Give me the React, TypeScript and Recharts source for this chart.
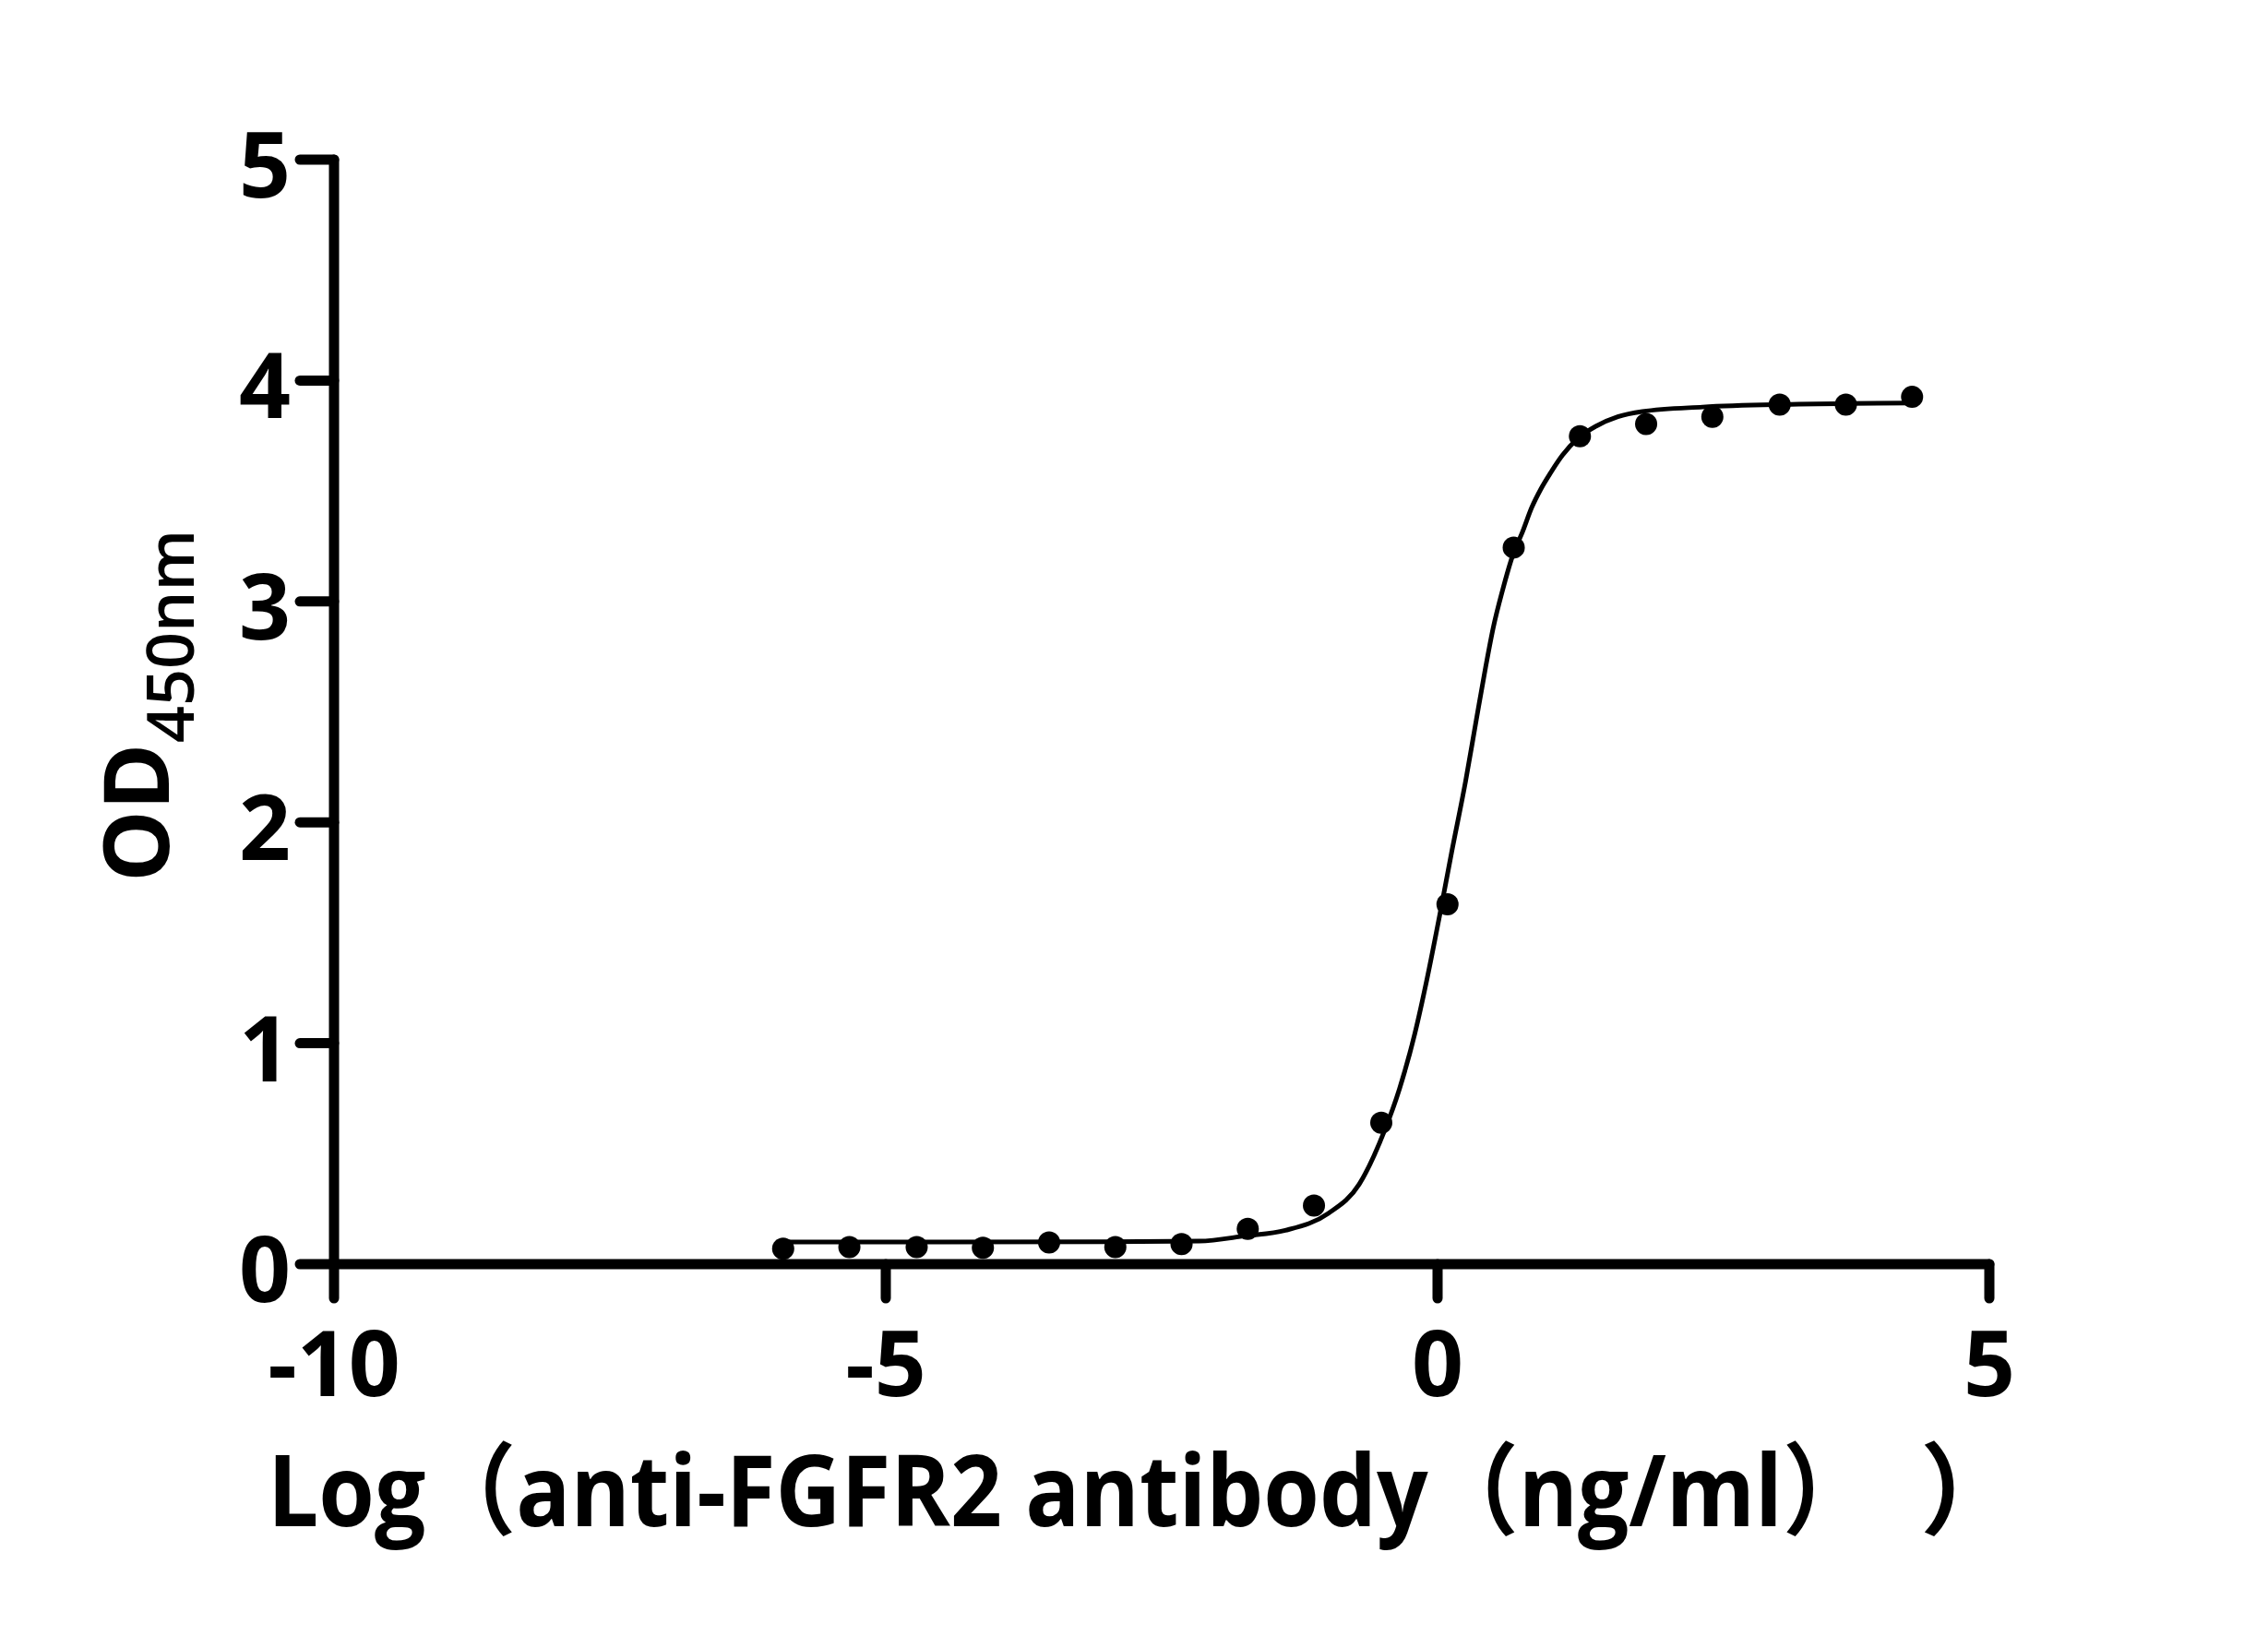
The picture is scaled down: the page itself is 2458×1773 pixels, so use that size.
import { useLayoutEffect, useRef, useState } from "react";
import { ComposedChart, Line, Scatter, XAxis, YAxis, Label } from "recharts";

// measured OD450 values, log10 of the antibody concentration (ng/ml)
const pointLogConc = [
  -5.93, -5.33, -4.72, -4.12, -3.52, -2.92, -2.32, -1.72, -1.12, -0.51, 0.09, 0.69, 1.29, 1.89, 2.49,
  3.1, 3.7, 4.3,
];
const pointOD = [
  0.07, 0.077, 0.077, 0.074, 0.098, 0.077, 0.091, 0.16, 0.265, 0.64, 1.629, 3.244, 3.748, 3.803, 3.836,
  3.891, 3.891, 3.926,
];

// fitted curve
const fitLogConc = [
  -5.93, -4.5, -3.0, -2.16, -1.74, -1.38, -0.99, -0.71, -0.485, -0.345, -0.206, -0.094, 0.017, 0.128,
  0.254, 0.351, 0.435, 0.505, 0.588, 0.686, 0.769, 0.853, 0.936, 1.02, 1.132, 1.271, 1.438, 1.633, 1.856,
  2.4, 3.2, 4.3,
];
const fitOD = [
  0.1, 0.1, 0.101, 0.104, 0.128, 0.153, 0.23, 0.362, 0.599, 0.794, 1.044, 1.295, 1.574, 1.866, 2.186,
  2.464, 2.701, 2.882, 3.049, 3.216, 3.314, 3.425, 3.509, 3.579, 3.662, 3.738, 3.794, 3.836, 3.86, 3.88,
  3.892, 3.898,
];

const xTicks = [-10, -5, 0, 5];
const yTicks = [0, 1, 2, 3, 4, 5];

// the original title has a stray closing bracket after a gap
const xTitle = "Log（anti-FGFR2 antibody（ng/ml）";
const xTitleTail = "）";
const yTitleMain = "OD";
const yTitleSub = "450nm";

const FONT = "'Open Sans', 'Noto Sans CJK SC', sans-serif";

const points = pointLogConc.map((x, i) => ({ x, od: pointOD[i] }));
const fit = fitLogConc.map((x, i) => ({ x, od: fitOD[i] }));

const axisStroke = { stroke: "#000", strokeWidth: 11, strokeLinecap: "round" as const };

function XTick({ x, y, payload }: any) {
  return (
    <text x={x} y={y + 106} textAnchor="middle" fontFamily={FONT} fontSize={98} fontWeight={700} fill="#000">
      {payload.value}
    </text>
  );
}

function YTick({ x, y, payload }: any) {
  return (
    <text x={x} y={y + 41} textAnchor="end" fontFamily={FONT} fontSize={98} fontWeight={700} fill="#000">
      {payload.value}
    </text>
  );
}

function Dot({ cx, cy }: any) {
  return <circle cx={cx} cy={cy} r={12} fill="#000" />;
}

// the source font is narrower than Open Sans, so squeeze the title to its width
function XTitle() {
  const ref = useRef<SVGTextElement>(null);
  const [sx, setSx] = useState(0.9);
  useLayoutEffect(() => {
    if (ref.current) setSx(1740 / ref.current.getComputedTextLength());
  }, []);
  return (
    <g fontFamily={FONT} fontSize={108} fontWeight={700} fill="#000">
      <g transform={`translate(282, 1646) scale(${sx}, 1)`}>
        <text ref={ref} x={0} y={0}>
          {xTitle}
        </text>
      </g>
      <text x={2073} y={1646}>
        {xTitleTail}
      </text>
    </g>
  );
}

function YTitle() {
  return (
    <g fontFamily={FONT} fill="#000">
      <g transform="translate(175, 948) rotate(-90)">
        <text x={0} y={0} fontSize={98} fontWeight={700}>
          {yTitleMain}
        </text>
      </g>
      <g transform="translate(202, 797) rotate(-90)">
        <text x={0} y={0} fontSize={70} fontWeight={600}>
          {yTitleSub}
        </text>
      </g>
    </g>
  );
}

export default function App() {
  return (
    <ComposedChart width={2442} height={1757} margin={{ top: 165, right: 294, bottom: 0, left: 0 }}>
      <XAxis
        type="number"
        dataKey="x"
        domain={[-10, 5]}
        ticks={xTicks}
        height={395}
        tickSize={37}
        tickMargin={0}
        axisLine={axisStroke}
        tickLine={axisStroke}
        tick={<XTick />}
      >
        <Label content={() => <XTitle />} />
      </XAxis>
      <YAxis
        type="number"
        dataKey="od"
        domain={[0, 5]}
        ticks={yTicks}
        width={354}
        tickSize={37}
        tickMargin={10}
        axisLine={axisStroke}
        tickLine={axisStroke}
        tick={<YTick />}
      >
        <Label content={() => <YTitle />} />
      </YAxis>
      <Line
        data={fit}
        dataKey="od"
        type="monotone"
        stroke="#000"
        strokeWidth={5}
        dot={false}
        activeDot={false}
        isAnimationActive={false}
      />
      <Scatter data={points} dataKey="od" fill="#000" shape={<Dot />} isAnimationActive={false} />
    </ComposedChart>
  );
}
